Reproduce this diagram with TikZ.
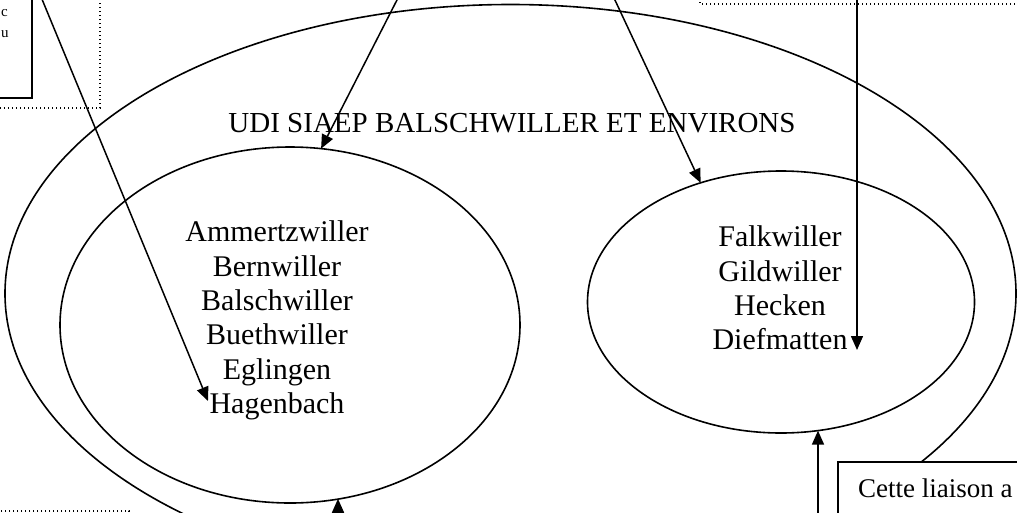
\documentclass[tikz,border=0pt]{standalone}
\usepackage{fontspec}
\setmainfont{Liberation Serif}
\usetikzlibrary{shapes.geometric,arrows.meta}
\tikzset{
  ring/.style={draw,ellipse,line width=1.6pt,inner sep=0pt,outer sep=0pt},
  arr/.style={line width=1.5pt,-{Triangle[length=14pt,width=12pt]}},
  frame/.style={line width=1.4pt,fill=white},
  dotframe/.style={line width=1.4pt,dash pattern=on 1.4pt off 2.6pt,fill=white},
  names/.style={align=center,inner sep=0pt,font=\fontsize{30}{34.3}\selectfont}
}
\begin{document}
\begin{tikzpicture}[x=1pt,y=-1pt]
        \useasboundingbox (0,0) rectangle (1017,512);
        \clip (0,0) rectangle (1017,512);

        % ellipses
        \node[ring,minimum width=1011pt,minimum height=578pt] (udi) at (510.5,293.5) {};
        \node[ring,minimum width=460pt,minimum height=356pt] (west) at (290,325) {};
        \node[ring,minimum width=387pt,minimum height=262pt] (east) at (781,302) {};

        % texts
        \node[font=\fontsize{29}{33}\selectfont,inner sep=0pt] (title) at (512,123) {UDI SIAEP BALSCHWILLER ET ENVIRONS};
        \node[names] (westlist) at (277,320.5) {Ammertzwiller\\Bernwiller\\Balschwiller\\Buethwiller\\Eglingen\\Hagenbach};
        \node[names] (eastlist) at (780,288) {Falkwiller\\Gildwiller\\Hecken\\Diefmatten};

        % boxes
        \draw[dotframe] (-10,-10) rectangle (100,108);
        \draw[frame] (-10,-10) rectangle (32,98);
        \node[anchor=base west,inner sep=0pt,font=\fontsize{15}{19}\selectfont] (cutc) at (1,16) {c};
        \node[anchor=base west,inner sep=0pt,font=\fontsize{15}{19}\selectfont] (cutu) at (1,37) {u};
        \draw[dotframe] (700,-50) rectangle (1030,4);
        \draw[dotframe] (-10,511) rectangle (129,560);
        \draw[frame] (838,462) rectangle (1030,560);
        \node[anchor=base west,inner sep=0pt,font=\fontsize{27}{31}\selectfont] (note) at (858,497) {Cette liaison a};

        % arrows
        \coordinate (hagen) at (208,401);
        \coordinate (dief) at (857,350);
        \coordinate (a1) at (41.5,-2);
        \coordinate (a2) at (398,-2);
        \coordinate (a3) at (614,-2);
        \coordinate (a4) at (857,-2);
        \coordinate (a5) at (338,515);
        \coordinate (a6) at (818,515);
        \draw[arr] (a1) -- (hagen);
        \draw[arr] (a2) -- (west.80);
        \draw[arr] (a3) -- (east.124);
        \draw[arr] (a4) -- (dief);
        \draw[arr] (a5) -- (a5 |- west.-74);
        \draw[arr] (a6) -- (a6 |- east.-74);
\end{tikzpicture}
\end{document}
